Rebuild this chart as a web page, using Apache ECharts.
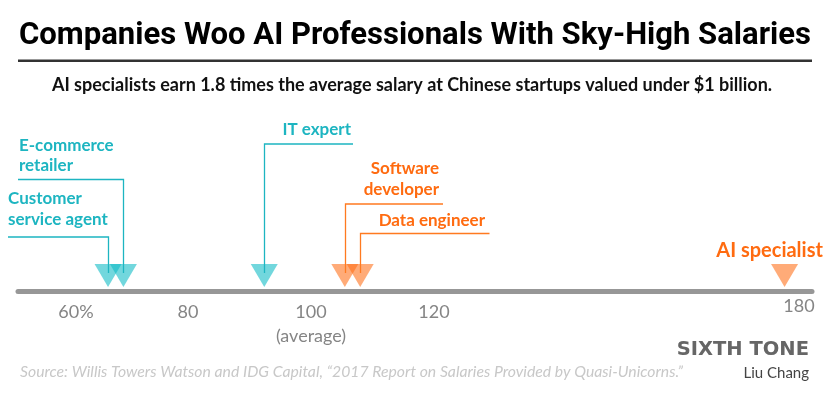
<!DOCTYPE html>
<html>
<head>
<meta charset="utf-8">
<script src="https://cdn.jsdelivr.net/npm/echarts@6/dist/echarts.min.js"></script>
<style>
html,body{margin:0;padding:0;background:#fff;}
#chart{width:830px;height:395px;}
</style>
</head>
<body>
<div id="chart"></div>
<script>
// ---- data ----
const categories = ['Customer service agent', 'E-commerce retailer', 'IT expert', 'Software developer', 'Data engineer', 'AI specialist'];
const calloutTexts = ['Customer\nservice agent', 'E-commerce\nretailer', 'IT expert', 'Software\ndeveloper', 'Data engineer', 'AI specialist'];
const salaryIndex = [67, 69.5, 92.4, 105.5, 108, 177];
const groups = ['other', 'other', 'other', 'tech', 'tech', 'tech'];
const tickValues = [60, 80, 100, 120, 180];
const tickLabels = ['60%', '80', '100\n(average)', '120', '180'];

// ---- styling / layout (pixels) ----
const COLORS = {
  other: {tri: 'rgba(13,186,197,0.73)', line: '#1DB5C1', text: '#1DB5C1'},
  tech:  {tri: 'rgba(255,110,20,0.72)', line: '#FF7A20', text: '#FF6B10'}
};
const calloutLayout = [
  {level: 237, endX: 8, align: 'left', tx: 8, tb: 229.5, fs: 17},
  {level: 179.5, endX: 18, align: 'left', tx: 19, tb: 176, fs: 17},
  {level: 144, endX: 353, align: 'right', tx: 351, tb: 139.5, fs: 17},
  {level: 204, endX: 443, align: 'right', tx: 439, tb: 199.5, fs: 17},
  {level: 233.5, endX: 489.5, align: 'right', tx: 485, tb: 230.5, fs: 17},
  {level: null, align: 'center', dx: -15, tb: 261, fs: 20}
];
const labelRich = {
  '60%': {padding: [0, 0, 0, 22]},
  '180': {padding: [0, 8, 12, 0]}
};

const TITLE = 'Companies Woo AI Professionals With Sky-High Salaries';
const titleFont = 'bold 31px Roboto';
const mctx = document.createElement('canvas').getContext('2d');
mctx.font = titleFont;
const titleScale = 792 / mctx.measureText(TITLE).width;

const chart = echarts.init(document.getElementById('chart'), null, {renderer: 'canvas'});

const scatterData = salaryIndex.map((v, i) => ({
  value: [v, 0],
  itemStyle: {color: COLORS[groups[i]].tri}
}));
const calloutData = salaryIndex.map((v, i) => [v, i]);

function renderCallout(params, api) {
  const i = api.value(1);
  const v = api.value(0);
  const pt = api.coord([v, 0]);
  const x = Math.round(pt[0]) + 0.5;
  const lay = calloutLayout[i];
  const c = COLORS[groups[i]];
  const children = [];
  if (lay.level !== null) {
    children.push({
      type: 'polyline',
      shape: {points: [[x, pt[1] - 18], [x, lay.level], [lay.endX, lay.level]]},
      style: {stroke: c.line, lineWidth: 1.3, fill: null}
    });
  }
  children.push({
    type: 'text',
    style: {
      text: calloutTexts[i],
      x: lay.tx !== undefined ? lay.tx : pt[0] + lay.dx,
      y: lay.tb,
      align: lay.align,
      verticalAlign: 'bottom',
      fill: c.text,
      fontFamily: 'Lato',
      fontWeight: 'bold',
      fontSize: lay.fs,
      lineHeight: 20.5
    }
  });
  return {type: 'group', children: children};
}

const option = {
  animation: false,
  backgroundColor: '#fff',
  grid: {left: 18, right: 18, top: 100, bottom: 104},
  xAxis: {
    type: 'value',
    min: 52.36,
    max: 181.46,
    splitLine: {show: false},
    axisTick: {show: false},
    axisLine: {show: true, onZero: false, lineStyle: {color: '#979797', width: 5}},
    axisLabel: {
      customValues: tickValues,
      margin: 9,
      color: '#858585',
      fontFamily: 'Lato',
      fontSize: 18,
      lineHeight: 24,
      verticalAlign: 'top',
      formatter: function (val) {
        const idx = tickValues.indexOf(Math.round(val));
        if (idx < 0) return '';
        const t = tickLabels[idx];
        if (labelRich[t]) return '{r' + idx + '|' + t + '}';
        return t;
      },
      rich: (function () {
        const r = {};
        tickLabels.forEach((t, idx) => {
          if (labelRich[t]) {
            r['r' + idx] = Object.assign({color: '#858585', fontFamily: 'Lato', fontSize: 18, lineHeight: 24}, labelRich[t]);
          }
        });
        return r;
      })()
    }
  },
  yAxis: {type: 'value', min: 0, max: 1, show: false},
  series: [
    {
      type: 'scatter',
      data: scatterData,
      symbol: 'triangle',
      symbolRotate: 180,
      symbolSize: [27, 23],
      symbolOffset: [0, -15.5],
      z: 3,
      silent: true
    },
    {
      type: 'custom',
      data: calloutData,
      renderItem: renderCallout,
      encode: {x: 0},
      clip: false,
      z: 4,
      silent: true
    }
  ],
  graphic: [
    {
      type: 'text', x: 415, y: 36, scaleX: titleScale,
      style: {text: TITLE, fill: '#000', font: titleFont, align: 'center', verticalAlign: 'middle'}
    },
    {
      type: 'rect', shape: {x: 18, y: 59.5, width: 794, height: 2.5}, style: {fill: '#333'}
    },
    {
      type: 'text', x: 412, y: 85,
      style: {text: 'AI specialists earn 1.8 times the average salary at Chinese startups valued under $1 billion.',
        fill: '#111', fontFamily: 'Lato', fontWeight: 'bold', fontSize: 18, align: 'center', verticalAlign: 'middle'}
    },
    {
      type: 'text', x: 20, y: 372,
      style: {text: 'Source: Willis Towers Watson and IDG Capital, \u201c2017 Report on Salaries Provided by Quasi-Unicorns.\u201d',
        fill: '#c8c8c8', fontFamily: 'Lato', fontStyle: 'italic', fontSize: 15.75, verticalAlign: 'middle'}
    },
    {
      type: 'text', x: 809, y: 350,
      style: {text: 'SIXTH TONE', fill: '#666', fontFamily: 'DejaVu Sans', fontWeight: 'bold', fontSize: 19.5, align: 'right', verticalAlign: 'middle'}
    },
    {
      type: 'text', x: 809, y: 373,
      style: {text: 'Liu Chang', fill: '#444', fontFamily: 'Lato', fontSize: 15, align: 'right', verticalAlign: 'middle'}
    }
  ]
};
chart.setOption(option);
</script>
</body>
</html>
